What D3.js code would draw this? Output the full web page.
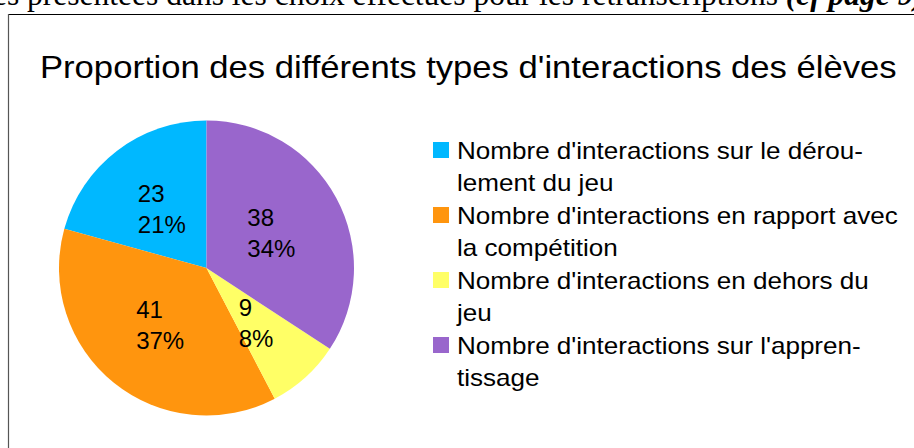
<!DOCTYPE html>
<html>
<head>
<meta charset="utf-8">
<script src="https://cdn.jsdelivr.net/npm/d3@7/dist/d3.min.js"></script>
<style>
  html, body { margin: 0; padding: 0; background: #fff; }
  svg { display: block; }
</style>
</head>
<body>
<svg id="chart" width="914" height="448"></svg>
<script>
// ---- data ----
const categories = [
  "Nombre d'interactions sur le déroulement du jeu",
  "Nombre d'interactions en rapport avec la compétition",
  "Nombre d'interactions en dehors du jeu",
  "Nombre d'interactions sur l'apprentissage"
];
const values = [23, 41, 9, 38];
const colors = ["#00b8ff", "#ff950e", "#ffff66", "#9966cc"];
const legendLines = [
  ["Nombre d'interactions sur le dérou-", "lement du jeu"],
  ["Nombre d'interactions en rapport avec", "la compétition"],
  ["Nombre d'interactions en dehors du", "jeu"],
  ["Nombre d'interactions sur l'appren-", "tissage"]
];
const titleText = "Proportion des différents types d'interactions des élèves";
const headerText = "es présentées dans les choix effectués pour les retranscriptions ";
const headerBold = "(cf page 9)";

// ---- drawing ----
const svg = d3.select("#chart");
const sans = "'Liberation Sans', Arial, Helvetica, sans-serif";

// cropped line of document text above the chart frame
const header = svg.append("text")
  .attr("x", -7).attr("y", 5)
  .attr("font-family", "'Liberation Serif', 'Times New Roman', serif")
  .attr("font-size", 31.5)
  .attr("fill", "#000");
header.append("tspan").text(headerText);
header.append("tspan").attr("font-weight", "bold").attr("font-style", "italic").text(headerBold);

// chart frame (partially visible)
svg.append("line").attr("x1", 8.5).attr("x2", 914).attr("y1", 14.5).attr("y2", 14.5)
  .attr("stroke", "#000").attr("stroke-width", 1.2);
svg.append("line").attr("x1", 8.5).attr("x2", 8.5).attr("y1", 14).attr("y2", 448)
  .attr("stroke", "#555").attr("stroke-width", 1.2);

// title (widened horizontally to match the reference rendering)
const title = svg.append("text")
  .attr("font-family", sans)
  .attr("font-size", 32)
  .attr("fill", "#000")
  .text(titleText);
const tw = title.node().getComputedTextLength();
title.attr("transform", `translate(40,78) scale(${857 / tw},1)`);

// pie
const cx = 206.5, cy = 268, R = 147.5;
const total = d3.sum(values);
const pie = d3.pie().sort(null).value(d => d).startAngle(0).endAngle(-2 * Math.PI);
const arcs = pie(values);
const arc = d3.arc().innerRadius(0).outerRadius(R);
const g = svg.append("g").attr("transform", `translate(${cx},${cy})`);
g.selectAll("path.slice").data(arcs).join("path")
  .attr("class", "slice")
  .attr("d", arc)
  .attr("fill", (d, i) => colors[i]);

// slice labels: value + percent, left-aligned block centred at centroid
const fmtPct = v => Math.round(v / total * 100) + "%";
arcs.forEach((d, i) => {
  const [mx, my] = arc.centroid(d);
  const lab = g.append("g");
  const t1 = lab.append("text").attr("font-family", sans).attr("font-size", 24)
    .attr("fill", "#000").text(values[i]);
  const t2 = lab.append("text").attr("font-family", sans).attr("font-size", 24)
    .attr("fill", "#000").text(fmtPct(values[i]));
  const w = Math.max(t1.node().getComputedTextLength(), t2.node().getComputedTextLength());
  const x0 = mx - w / 2;
  t1.attr("x", x0).attr("y", my - 7);
  t2.attr("x", x0).attr("y", my + 24);
});

// legend
const lx = 433, ly = 142, entryStep = 65, lineStep = 32, sx = 1.133;
const leg = svg.append("g");
categories.forEach((c, i) => {
  const y0 = ly + i * entryStep;
  leg.append("rect")
    .attr("x", lx).attr("y", y0).attr("width", 16).attr("height", 16)
    .attr("fill", colors[i]);
  legendLines[i].forEach((ln, j) => {
    leg.append("text")
      .attr("transform", `translate(${lx + 24},${y0 + 17 + j * lineStep}) scale(${sx},1)`)
      .attr("font-family", sans)
      .attr("font-size", 23)
      .attr("fill", "#000")
      .text(ln);
  });
});
</script>
</body>
</html>
